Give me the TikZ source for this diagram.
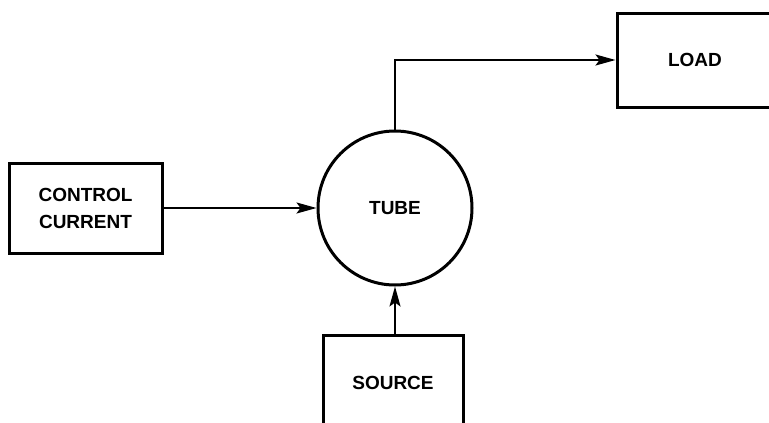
\documentclass[tikz,border=0pt]{standalone}
\usepackage{fontspec}
\setmainfont{Liberation Sans}
\usetikzlibrary{arrows.meta}
\begin{document}
\begin{tikzpicture}[x=1pt,y=-1pt,
  blk/.style={draw,line width=3pt,inner sep=0pt,align=center,
    font=\fontsize{19}{27}\selectfont\bfseries},
  conn/.style={line width=2pt,-{Stealth[length=20pt,width=11pt,inset=4pt]}}]
\useasboundingbox (0,0) rectangle (769,423);
\clip (0,0) rectangle (769,423);
\node[blk,minimum width=153pt,minimum height=90pt] (ctrl) at (85.5,208) {CONTROL\\CURRENT};
\node[blk,circle,minimum size=154pt] (tube) at (395,208) {TUBE};
\node[blk,minimum width=156pt,minimum height=94pt] (load) at (695,60) {LOAD};
\node[blk,minimum width=140pt,minimum height=96pt] (src) at (393,383) {SOURCE};
\draw[conn] (ctrl.east) -- (tube.west);
\draw[conn] (src.north -| tube.south) -- (tube.south);
\draw[conn] (tube.north) |- (load.west);
\end{tikzpicture}
\end{document}
